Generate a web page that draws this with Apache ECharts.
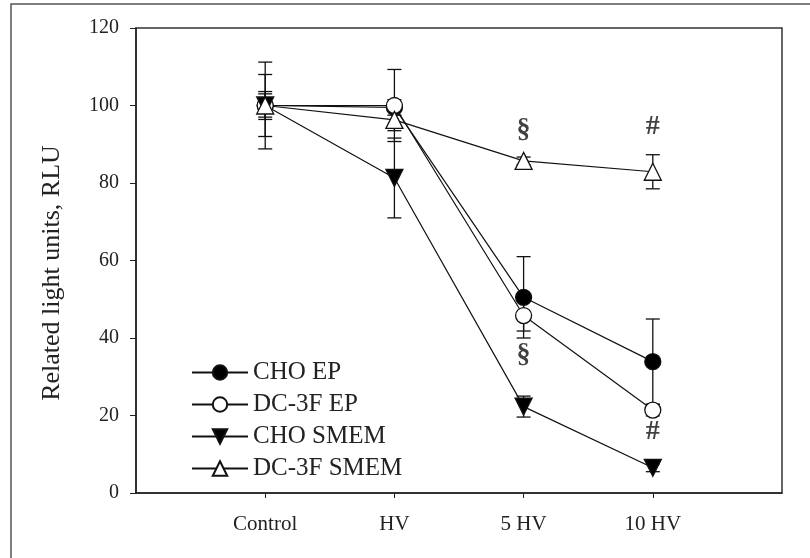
<!DOCTYPE html>
<html><head><meta charset="utf-8">
<script src="https://cdn.jsdelivr.net/npm/echarts@6/dist/echarts.min.js"></script>
<style>html,body{margin:0;padding:0;background:#fff}#c{width:810px;height:558px}</style>
</head><body><div id="c"></div>
<script>
const categories = ['Control', 'HV', '5 HV', '10 HV'];
const xPositions = [1, 2, 3, 4];
const yTicks = [0, 20, 40, 60, 80, 100, 120];
const yTitle = 'Related light units, RLU';
const seriesNames = ['CHO EP', 'DC-3F EP', 'CHO SMEM', 'DC-3F SMEM'];
const choEP = [100, 99.5, 50.5, 33.9];
const choEPErr = [8, 2, 10.5, 11];
const dc3fEP = [100, 100, 45.8, 21.4];
const dc3fEPErr = [3.6, 9.3, 4, 1.5];
const choSMEM = [100, 81.3, 22.3, 6.5];
const choSMEMErr = [11.2, 10.3, 2.7, 1];
const dc3fSMEM = [100, 96.3, 85.7, 82.9];
const dc3fSMEMErr = [3, 2.8, 1, 4.4];
const annotText = ['§', '§', '#', '#'];
const annotX = [3, 3, 4, 4];
const annotY = [93.7, 35.6, 94.4, 15.7];

const FONT = '"Liberation Serif", "DejaVu Serif", serif';
const chart = echarts.init(document.getElementById('c'));

function pts(vals) { return xPositions.map((x, i) => [x, vals[i]]); }
function errs(vals, e) { return xPositions.map((x, i) => [x, vals[i] - e[i], vals[i] + e[i]]); }

function errSeries(vals, e) {
  return {
    type: 'custom', z: 1, silent: true,
    data: errs(vals, e),
    renderItem: function (params, api) {
      const lo = api.coord([api.value(0), api.value(1)]);
      const hi = api.coord([api.value(0), api.value(2)]);
      const w = 7;
      const st = { stroke: '#111', lineWidth: 1.3 };
      return {
        type: 'group', children: [
          { type: 'line', shape: { x1: lo[0], y1: lo[1], x2: hi[0], y2: hi[1] }, style: st },
          { type: 'line', shape: { x1: lo[0] - w, y1: lo[1], x2: lo[0] + w, y2: lo[1] }, style: st },
          { type: 'line', shape: { x1: hi[0] - w, y1: hi[1], x2: hi[0] + w, y2: hi[1] }, style: st }
        ]
      };
    }
  };
}

function lineSeries(name, vals, symbol, fill, rotate) {
  return {
    name: name, type: 'line', z: 3, data: pts(vals),
    symbol: symbol, symbolSize: symbol === 'circle' ? 16 : 17, symbolRotate: rotate || 0,
    showAllSymbol: true,
    lineStyle: { color: '#111', width: 1.2 },
    itemStyle: { color: fill, borderColor: '#111', borderWidth: 1.3 },
    emphasis: { disabled: true },
    animation: false
  };
}

const option = {
  animation: false,
  backgroundColor: '#fff',
  grid: { left: 136, top: 28, right: 28, bottom: 65, show: true, borderColor: '#333', borderWidth: 1.5, backgroundColor: 'transparent' },
  graphic: [{
    type: 'rect', shape: { x: 11, y: 4, width: 900, height: 700 },
    style: { fill: 'none', stroke: '#555', lineWidth: 1.5 }, silent: true
  }, {
    type: 'text', x: 52, y: 273, rotation: Math.PI / 2, silent: true,
    style: { text: yTitle, font: '26px ' + FONT, fill: '#222', align: 'center', verticalAlign: 'middle' }
  }],
  legend: {
    orient: 'vertical', left: 186, top: 355, itemWidth: 56, itemHeight: 18, itemGap: 7,
    data: seriesNames,
    textStyle: { fontFamily: FONT, fontSize: 25, color: '#222' }
  },
  xAxis: {
    type: 'value', min: 0, max: 5, interval: 1,
    splitLine: { show: false },
    axisLine: { lineStyle: { color: '#222', width: 1.5 } },
    axisTick: { show: true, length: 5, lineStyle: { color: '#222' }, customValues: xPositions },
    axisLabel: {
      customValues: xPositions, margin: 21,
      fontFamily: FONT, fontSize: 21, color: '#222',
      formatter: function (v) { const i = xPositions.indexOf(v); return i >= 0 ? categories[i] : ''; }
    }
  },
  yAxis: {
    type: 'value', min: 0, max: 120, interval: 20,
    splitLine: { show: false },
    axisLine: { show: true, lineStyle: { color: '#222', width: 1.5 } },
    axisTick: { show: true, length: 6, lineStyle: { color: '#222' } },
    axisLabel: { margin: 17, fontFamily: FONT, fontSize: 20, color: '#222',
      formatter: function (v) { return yTicks.indexOf(v) >= 0 ? String(v) : ''; } }
  },
  series: [
    errSeries(choEP, choEPErr),
    errSeries(dc3fEP, dc3fEPErr),
    errSeries(choSMEM, choSMEMErr),
    errSeries(dc3fSMEM, dc3fSMEMErr),
    lineSeries('CHO EP', choEP, 'circle', '#000'),
    lineSeries('DC-3F EP', dc3fEP, 'circle', '#fff'),
    lineSeries('CHO SMEM', choSMEM, 'triangle', '#000', 180),
    lineSeries('DC-3F SMEM', dc3fSMEM, 'triangle', '#fff'),
    {
      type: 'scatter', z: 5, silent: true, symbolSize: 1, itemStyle: { color: 'transparent' },
      data: annotX.map((x, i) => ({ value: [x, annotY[i]], label: { formatter: annotText[i] } })),
      label: { show: true, position: 'inside', fontFamily: FONT, fontSize: 28, fontWeight: 'bold', color: '#111' }
    }
  ]
};
chart.setOption(option);
</script></body></html>
